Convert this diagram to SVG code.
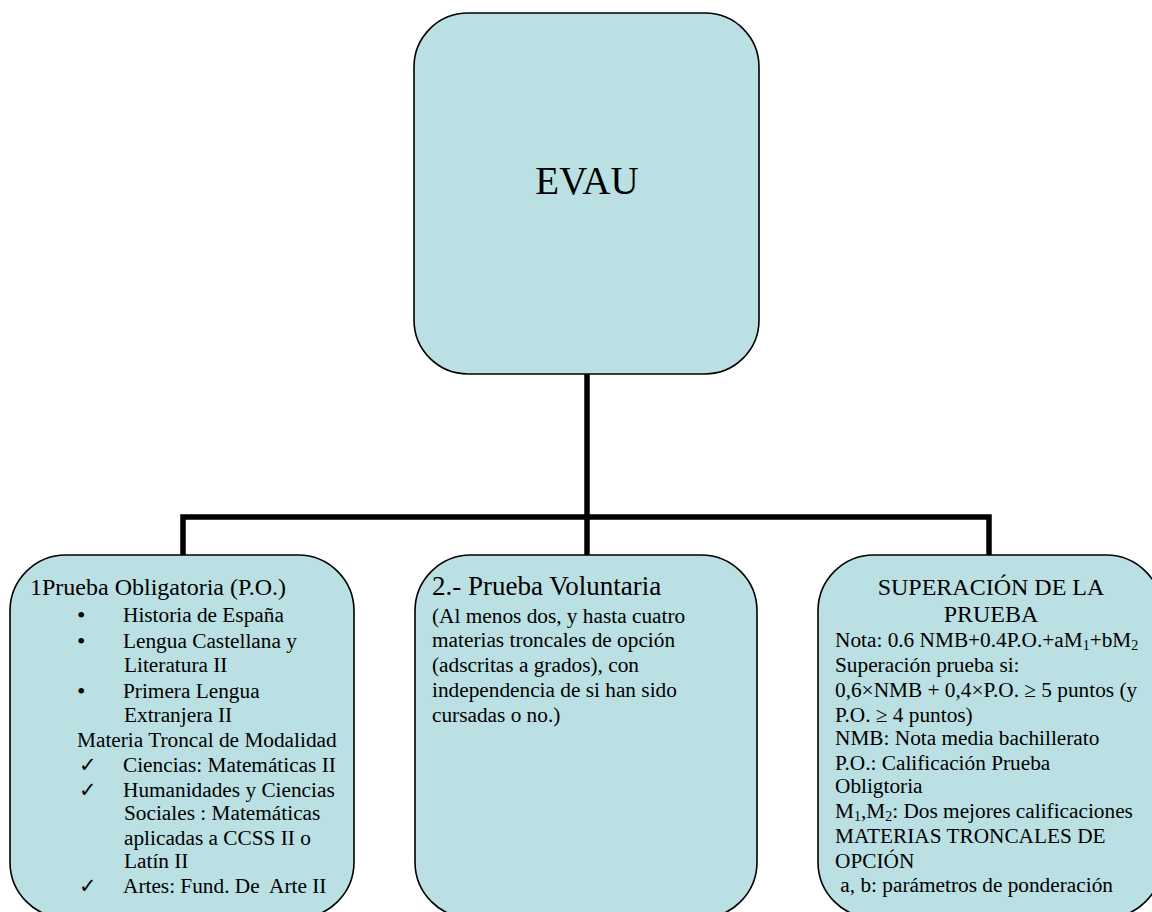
<svg xmlns="http://www.w3.org/2000/svg" width="1152" height="912" viewBox="0 0 1152 912">
<style>
.box{fill:#BAE0E3;stroke:#000;stroke-width:1.6}
.conn{fill:none;stroke:#000;stroke-width:5.5}
text{font-family:"Liberation Serif","Times New Roman",serif;fill:#000;font-size:21.3px}
.big{font-size:39px}
.h1{font-size:24px}
.h2{font-size:27px}
.sub{font-size:14px}
.bul{font-size:24px}
</style>
<rect width="1152" height="912" fill="#fff"/>
<g id="connectors">
<path class="conn" d="M587,374 V555 M183,555 V517 H989 V555"/>
</g>
<g id="evau">
<rect class="box" x="414" y="13" width="345" height="361" rx="54" ry="54"/>
<text class="big" x="587" y="194" text-anchor="middle">EVAU</text>
</g>
<g id="prueba-obligatoria">
<rect class="box" x="10" y="555" width="344" height="363" rx="56" ry="56"/>
<text class="h1" x="30" y="595">1Prueba Obligatoria (P.O.)</text>
<text class="bul" x="77" y="623">•</text><text x="123" y="622">Historia de España</text>
<text class="bul" x="77" y="649">•</text><text x="123" y="648">Lengua Castellana y</text>
<text x="124" y="672">Literatura II</text>
<text class="bul" x="77" y="699">•</text><text x="123" y="698">Primera Lengua</text>
<text x="124" y="722">Extranjera II</text>
<text x="77" y="747">Materia Troncal de Modalidad</text>
<text x="79" y="772">✓</text><text x="123" y="772">Ciencias: Matemáticas II</text>
<text x="79" y="797">✓</text><text x="123" y="797">Humanidades y Ciencias</text>
<text x="124" y="820">Sociales : Matemáticas</text>
<text x="124" y="845">aplicadas a CCSS II o</text>
<text x="124" y="868">Latín II</text>
<text x="79" y="893">✓</text><text x="123" y="893" xml:space="preserve">Artes: Fund. De  Arte II</text>
</g>
<g id="prueba-voluntaria">
<rect class="box" x="415" y="555" width="342" height="363" rx="56" ry="56"/>
<text class="h2" x="432" y="595">2.- Prueba Voluntaria</text>
<text x="432" y="623">(Al menos dos, y hasta cuatro</text>
<text x="432" y="647">materias troncales de opción</text>
<text x="432" y="672">(adscritas a grados), con</text>
<text x="432" y="697">independencia de si han sido</text>
<text x="432" y="722">cursadas o no.)</text>
</g>
<g id="superacion">
<rect class="box" x="818" y="555" width="344" height="363" rx="56" ry="56"/>
<text class="h1" x="991" y="595" text-anchor="middle">SUPERACIÓN DE LA</text>
<text class="h1" x="991" y="622" text-anchor="middle">PRUEBA</text>
<text x="835" y="647">Nota: 0.6 NMB+0.4P.O.+aM<tspan class="sub" dy="3">1</tspan><tspan dy="-3">+bM</tspan><tspan class="sub" dy="3">2</tspan></text>
<text x="835" y="672">Superación prueba si:</text>
<text x="835" y="697">0,6×NMB + 0,4×P.O. ≥ 5 puntos (y</text>
<text x="835" y="722">P.O. ≥ 4 puntos)</text>
<text x="835" y="745">NMB: Nota media bachillerato</text>
<text x="835" y="770">P.O.: Calificación Prueba</text>
<text x="835" y="793">Obligtoria</text>
<text x="835" y="818">M<tspan class="sub" dy="3">1</tspan><tspan dy="-3">,M</tspan><tspan class="sub" dy="3">2</tspan><tspan dy="-3">: Dos mejores calificaciones</tspan></text>
<text x="835" y="843">MATERIAS TRONCALES DE</text>
<text x="835" y="868">OPCIÓN</text>
<text x="835" y="892" xml:space="preserve"> a, b: parámetros de ponderación</text>
</g>
</svg>
